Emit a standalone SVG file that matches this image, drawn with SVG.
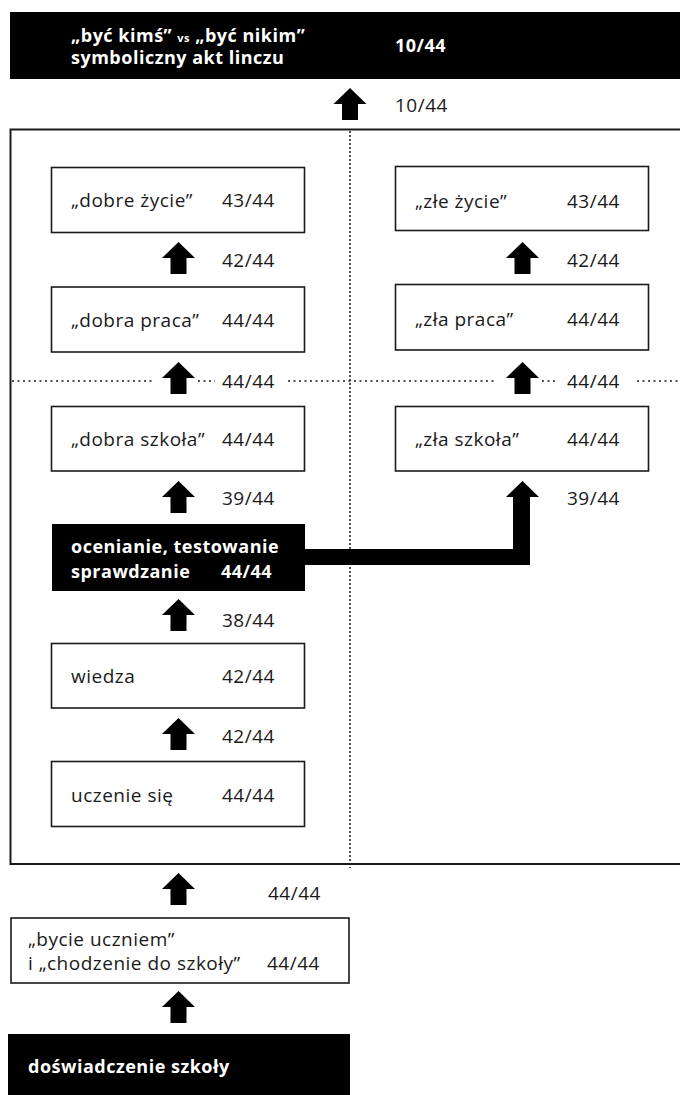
<svg xmlns="http://www.w3.org/2000/svg" xmlns:xlink="http://www.w3.org/1999/xlink" width="680" height="1095" viewBox="0 0 680 1095">
<style>
.box{fill:#fff;stroke:#1a1a1a;stroke-width:1.6}
.blk{fill:#000}
.t{font-family:"Open Sans","Noto Sans",sans-serif;font-size:19px;letter-spacing:0.5px;fill:#1a1a1a}
.b{font-family:"Open Sans","Noto Sans",sans-serif;font-size:18px;font-weight:bold;letter-spacing:0.5px;fill:#fff}
.dot{fill:none;stroke:#1a1a1a;stroke-width:1.5}
.arr{fill:#000}
</style>
<defs>
<path id="arrow" d="M0,0 L16.5,16 L8,16 L8,32 L-8,32 L-8,16 L-16.5,16 Z"/>
</defs>
<rect width="680" height="1095" fill="#fff"/>

<g id="frame">
<rect x="10.5" y="129.5" width="690" height="734.5" fill="none" stroke="#1a1a1a" stroke-width="2"/>
<line class="dot" x1="350" y1="131" x2="350" y2="868" stroke-dasharray="2 2"/>
<path class="dot" d="M12,381 H153 M198,381 H215 M288,381 H497 M542,381 H558 M637,381 H680" stroke-dasharray="2 3.5"/>
</g>

<g id="connectors">
<use xlink:href="#arrow" href="#arrow" class="arr" x="350" y="88"/>
<use xlink:href="#arrow" href="#arrow" class="arr" x="178.5" y="242"/>
<use xlink:href="#arrow" href="#arrow" class="arr" x="178.5" y="362"/>
<use xlink:href="#arrow" href="#arrow" class="arr" x="178.5" y="481"/>
<use xlink:href="#arrow" href="#arrow" class="arr" x="178.5" y="599"/>
<use xlink:href="#arrow" href="#arrow" class="arr" x="178.5" y="718"/>
<use xlink:href="#arrow" href="#arrow" class="arr" x="178.5" y="873"/>
<use xlink:href="#arrow" href="#arrow" class="arr" x="178.5" y="991"/>
<use xlink:href="#arrow" href="#arrow" class="arr" x="522.5" y="242"/>
<use xlink:href="#arrow" href="#arrow" class="arr" x="522.5" y="362"/>
<path class="arr" d="M305,549 H513 V497 H506 L522.5,481 L539,497 H530 V565 H305 Z"/>
<text class="t" x="395" y="112">10/44</text>
<text class="t" x="222" y="267">42/44</text>
<text class="t" x="222" y="388">44/44</text>
<text class="t" x="222" y="505">39/44</text>
<text class="t" x="222" y="627">38/44</text>
<text class="t" x="222" y="743">42/44</text>
<text class="t" x="268" y="900">44/44</text>
<text class="t" x="567" y="267">42/44</text>
<text class="t" x="567" y="388">44/44</text>
<text class="t" x="567" y="505">39/44</text>
</g>

<g id="top">
<rect class="blk" x="10" y="12" width="680" height="67"/>
<text class="b" x="71" y="42">„być kimś” <tspan font-size="11">vs</tspan> „być nikim”</text>
<text class="b" x="71" y="64">symboliczny akt linczu</text>
<text class="b" x="395" y="52">10/44</text>
</g>

<g id="dobre-zycie">
<rect class="box" x="51.5" y="167.5" width="253" height="65"/>
<text class="t" x="71" y="207">„dobre życie”</text>
<text class="t" x="222" y="207">43/44</text>
</g>
<g id="dobra-praca">
<rect class="box" x="51.5" y="287" width="253" height="65"/>
<text class="t" x="71" y="327">„dobra praca”</text>
<text class="t" x="222" y="327">44/44</text>
</g>
<g id="dobra-szkola">
<rect class="box" x="51.5" y="406.5" width="253" height="64.5"/>
<text class="t" x="71" y="446">„dobra szkoła”</text>
<text class="t" x="222" y="446">44/44</text>
</g>
<g id="ocenianie">
<rect class="blk" x="52" y="524" width="253" height="67"/>
<text class="b" x="71" y="553">ocenianie, testowanie</text>
<text class="b" x="71" y="578">sprawdzanie</text>
<text class="b" x="221" y="578">44/44</text>
</g>
<g id="wiedza">
<rect class="box" x="51.5" y="643.5" width="253" height="64.5"/>
<text class="t" x="71" y="683">wiedza</text>
<text class="t" x="222" y="683">42/44</text>
</g>
<g id="uczenie">
<rect class="box" x="51.5" y="761.5" width="253" height="65"/>
<text class="t" x="71" y="802">uczenie się</text>
<text class="t" x="222" y="802">44/44</text>
</g>

<g id="zle-zycie">
<rect class="box" x="395.5" y="166.5" width="253" height="64"/>
<text class="t" x="415" y="208">„złe życie”</text>
<text class="t" x="567" y="208">43/44</text>
</g>
<g id="zla-praca">
<rect class="box" x="395.5" y="284.5" width="253" height="65.5"/>
<text class="t" x="415" y="326">„zła praca”</text>
<text class="t" x="567" y="326">44/44</text>
</g>
<g id="zla-szkola">
<rect class="box" x="395.5" y="406.5" width="253" height="64.5"/>
<text class="t" x="415" y="446">„zła szkoła”</text>
<text class="t" x="567" y="446">44/44</text>
</g>

<g id="bycie">
<rect class="box" x="11" y="918" width="338" height="65"/>
<text class="t" x="28" y="946">„bycie uczniem”</text>
<text class="t" x="28" y="970">i „chodzenie do szkoły”</text>
<text class="t" x="267" y="970">44/44</text>
</g>

<g id="doswiadczenie">
<rect class="blk" x="8" y="1034" width="342" height="61"/>
<text class="b" x="28" y="1073">doświadczenie szkoły</text>
</g>
</svg>
